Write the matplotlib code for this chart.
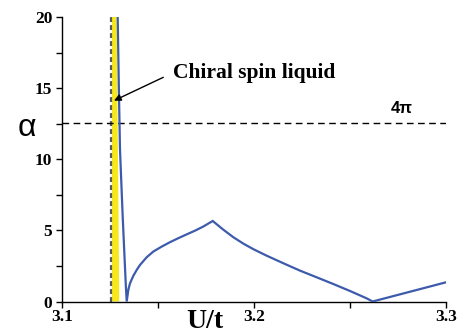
import matplotlib
matplotlib.use("Agg")
import matplotlib.pyplot as plt
import numpy as np

# alpha(U/t) curve
u_vals = [3.12901, 3.12961, 3.13021, 3.13161, 3.13318, 3.13370,
          3.13453, 3.13542, 3.13714, 3.13891, 3.14063, 3.14411, 3.14755,
          3.15193, 3.15625, 3.16057, 3.16495, 3.16927, 3.17359, 3.17849,
          3.18401, 3.18922, 3.19443, 3.19964, 3.20661, 3.21526, 3.22396,
          3.23266, 3.24130, 3.25000, 3.25870, 3.26180, 3.30000]
alpha_vals = [20.0, 15.0, 10.67, 5.97, 1.30, 0.0,
              0.81, 1.28, 1.80, 2.22, 2.57, 3.11, 3.51,
              3.86, 4.17, 4.45, 4.72, 4.98, 5.27, 5.66,
              5.05, 4.52, 4.07, 3.68, 3.22, 2.69, 2.17,
              1.70, 1.23, 0.74, 0.22, 0.0, 1.35]

# chiral spin liquid window (left edge, right edge at bottom/top)
csl_left = 3.12604
csl_right_bottom = 3.12984
csl_right_top = 3.12849
boundary_u = 3.12552
four_pi = 4 * np.pi

x_ticks = [3.1, 3.2, 3.3]
y_ticks = [0, 5, 10, 15, 20]

serif = "Liberation Serif"
plt.rcParams["font.family"] = serif
plt.rcParams["font.weight"] = "bold"

fig = plt.figure(figsize=(4.63, 3.34), dpi=100)
ax = fig.add_axes([62 / 463, 1 - 301.5 / 334, 384 / 463, 284.5 / 334])

ax.fill([csl_left, csl_right_bottom, csl_right_top, csl_left],
        [0, 0, 20, 20], color="#f6e81c", lw=0, zorder=1)
ax.plot([boundary_u, boundary_u], [0, 20], color="#5a5a5a", lw=1.6,
        dashes=(2.2, 1.4), zorder=2)
ax.plot([3.1, 3.3], [four_pi, four_pi], color="black", lw=1.0,
        dashes=(4.8, 3.2), zorder=2)
ax.plot(u_vals, alpha_vals, color="#3d5bac", lw=1.6, zorder=3,
        solid_joinstyle="miter")

ax.set_xlim(3.1, 3.3)
ax.set_ylim(0, 20)
for s in ("top", "right"):
    ax.spines[s].set_visible(False)
for s in ("left", "bottom"):
    ax.spines[s].set_linewidth(1.0)

ax.set_xticks(x_ticks)
ax.set_xticks([3.15, 3.25], minor=True)
ax.set_yticks(y_ticks)
ax.set_yticks([2.5, 7.5, 12.5, 17.5], minor=True)
ax.set_xticklabels([f"{v:.1f}" for v in x_ticks])
ax.set_yticklabels([str(v) for v in y_ticks])
ax.tick_params(which="both", direction="out", length=4, width=1.0,
               labelsize=12.5)
ax.tick_params(axis="x", pad=1.5)
ax.tick_params(axis="y", pad=3)

fig.text(27 / 463, 1 - 128 / 334, "α", fontsize=23, family="Liberation Sans",
         fontweight="normal", ha="center", va="center")
fig.text(205 / 463, 1 - 322 / 334, "U/t", fontsize=20, fontweight="bold",
         ha="center", va="center")
ax.text(3.2771, 13.6, "4π", fontsize=12, family="Liberation Sans",
        fontweight="bold", ha="center", va="center")
ax.text(3.1578, 16.09, "Chiral spin liquid", fontsize=15.5, fontweight="bold",
        va="center", ha="left")
ax.annotate("", xy=(3.12708, 14.12), xytext=(3.15276, 15.76),
            arrowprops=dict(arrowstyle="-|>", color="black", lw=1.0,
                            mutation_scale=10, shrinkA=0, shrinkB=0))

fig.savefig("out.png", dpi=100)
